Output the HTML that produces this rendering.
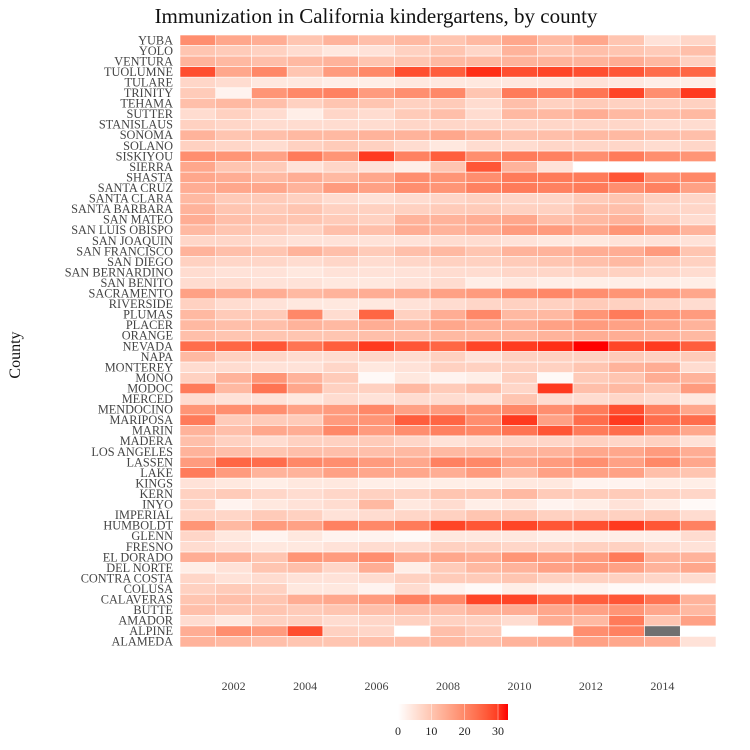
<!DOCTYPE html>
<html><head><meta charset="utf-8">
<style>
html,body{margin:0;padding:0;background:#fff;}
svg{display:block;font-family:"Liberation Serif",serif;}
</style></head>
<body>
<svg id="chart" width="750" height="750" viewBox="0 0 750 750">
  <text x="376" y="23" text-anchor="middle" font-size="21" fill="#111">Immunization in California kindergartens, by county</text>
  <text transform="translate(20,355) rotate(-90)" text-anchor="middle" font-size="16" fill="#111">County</text>
  <g id="cells"></g>
  <g id="ylabels"></g>
  <g id="xlabels"></g>
  <g id="legend"></g>
</svg>
<script>
const years = [2001,2002,2003,2004,2005,2006,2007,2008,2009,2010,2011,2012,2013,2014,2015];
const xTicks = [2002,2004,2006,2008,2010,2012,2014];
const legendTicks = [0,10,20,30];
const counties = ["YUBA","YOLO","VENTURA","TUOLUMNE","TULARE","TRINITY","TEHAMA","SUTTER","STANISLAUS","SONOMA","SOLANO","SISKIYOU","SIERRA","SHASTA","SANTA CRUZ","SANTA CLARA","SANTA BARBARA","SAN MATEO","SAN LUIS OBISPO","SAN JOAQUIN","SAN FRANCISCO","SAN DIEGO","SAN BERNARDINO","SAN BENITO","SACRAMENTO","RIVERSIDE","PLUMAS","PLACER","ORANGE","NEVADA","NAPA","MONTEREY","MONO","MODOC","MERCED","MENDOCINO","MARIPOSA","MARIN","MADERA","LOS ANGELES","LASSEN","LAKE","KINGS","KERN","INYO","IMPERIAL","HUMBOLDT","GLENN","FRESNO","EL DORADO","DEL NORTE","CONTRA COSTA","COLUSA","CALAVERAS","BUTTE","AMADOR","ALPINE","ALAMEDA"];
const values = [
[19,15,14,10,13,11,12,10,12,15,12,15,10,5,7],
[10,9,8,6,4,5,8,10,7,13,10,11,10,9,11],
[13,12,11,12,13,10,10,12,12,13,13,13,14,12,8],
[28,15,20,10,17,20,28,26,31,28,29,28,27,24,25],
[7,6,4,4,3,3,4,4,4,4,4,5,4,3,3],
[9,2,18,20,21,17,19,20,10,22,21,23,29,19,30],
[11,12,11,8,10,10,8,9,6,11,8,9,8,8,8],
[6,8,6,3,7,6,9,11,6,12,12,14,12,11,12],
[8,7,6,6,6,6,7,7,7,7,7,7,7,6,6],
[13,10,11,12,12,13,13,15,13,11,11,12,12,11,11],
[8,7,6,8,9,8,6,4,6,6,7,7,7,6,7],
[19,18,16,22,18,30,21,26,19,22,21,19,22,19,18],
[15,10,9,5,7,5,3,10,27,13,5,null,null,null,null],
[15,14,12,14,12,15,19,18,19,22,22,22,27,19,20],
[14,15,15,13,17,16,19,18,21,22,21,22,19,21,16],
[12,9,9,8,6,5,6,7,8,7,7,9,10,8,7],
[13,10,9,10,8,8,8,9,9,8,8,11,11,7,7],
[14,11,10,10,9,8,13,13,14,15,11,12,13,9,6],
[12,10,9,8,11,11,14,13,14,17,17,15,18,16,13],
[7,7,6,5,5,5,5,6,6,5,4,4,5,5,5],
[13,11,10,13,11,9,11,12,10,13,13,14,14,17,10],
[8,7,7,6,7,6,7,8,8,9,10,11,12,9,8],
[6,5,5,4,5,5,5,6,6,7,7,8,8,7,6],
[6,6,5,5,4,4,5,6,3,4,3,3,3,3,3],
[16,14,14,12,13,14,14,16,17,19,20,19,18,17,15],
[8,6,5,4,4,4,5,6,7,8,8,9,8,7,6],
[12,9,9,20,6,25,8,14,20,12,12,18,22,18,17],
[12,11,11,13,12,14,13,15,14,14,16,17,16,15,13],
[11,10,10,10,10,11,11,12,12,12,13,14,14,13,12],
[24,25,27,23,26,30,27,25,29,30,31,33,29,30,26],
[12,8,7,6,6,7,6,8,5,8,8,8,9,8,9],
[6,6,5,5,7,4,5,8,8,8,8,10,13,14,6],
[8,13,18,13,9,1,4,2,3,8,1,9,10,14,13],
[22,12,23,15,8,8,12,9,11,7,30,11,12,10,17],
[6,5,5,4,6,5,6,6,5,10,6,6,7,6,4],
[18,19,19,16,17,20,16,17,18,20,19,22,28,21,15],
[22,9,9,9,17,18,26,25,19,30,16,24,30,24,24],
[13,11,15,14,20,17,19,21,20,23,27,22,24,19,15],
[11,8,6,8,8,9,7,5,6,7,7,8,7,8,5],
[13,11,10,11,11,11,12,12,12,13,13,15,15,17,14],
[17,25,24,20,19,17,15,21,20,16,17,19,16,20,15],
[22,17,13,13,16,15,15,14,17,12,16,16,16,11,10],
[5,4,3,4,4,3,3,3,3,4,4,2,2,3,3],
[8,9,7,6,7,8,8,10,10,12,9,9,9,8,7],
[7,2,4,5,6,12,4,6,3,4,2,3,5,3,1],
[7,7,9,8,5,6,7,8,10,10,8,8,8,9,6],
[18,12,17,16,21,20,22,29,27,29,27,28,30,27,21],
[7,4,2,4,2,2,1,4,4,4,3,3,3,3,6],
[6,5,4,4,5,6,6,8,8,7,7,8,8,6,5],
[14,13,10,18,17,19,14,15,14,18,16,17,22,13,13],
[3,5,10,11,7,14,3,9,12,13,16,17,16,13,15],
[7,5,6,5,5,6,8,9,9,10,8,8,8,7,6],
[8,9,8,4,4,2,6,2,1,3,2,2,1,1,0.3],
[10,11,10,14,15,17,21,20,29,29,25,26,27,23,13],
[11,10,10,9,10,11,11,11,13,14,15,16,18,15,12],
[6,4,8,8,6,7,8,8,8,6,14,12,22,10,16],
[14,19,17,28,8,7,null,11,9,null,null,19,21,"NA",null],
[13,12,11,10,10,11,11,12,11,13,14,16,15,14,5]
];
const vmin = 0, vmax = 33;
const plotL = 180, plotR = 716, plotT = 35, plotB = 647;
const colW = (plotR - plotL) / years.length;
const rowH = (plotB - plotT) / counties.length;
function xScale(year){ return plotL + (year - years[0]) * colW; }
function yScale(i){ return plotT + i * rowH; }
function lab2rgb(L,a,b){
  let fy=(L+16)/116, fx=fy+a/500, fz=fy-b/200;
  const f=t=>t>0.206893?t*t*t:(t-16/116)/7.787;
  let X=0.95047*f(fx),Y=f(fy),Z=1.08883*f(fz);
  let r=3.2406*X-1.5372*Y-0.4986*Z, g=-0.9689*X+1.8758*Y+0.0415*Z, bb=0.0557*X-0.2040*Y+1.0570*Z;
  const gm=c=>{c=Math.max(0,Math.min(1,c));return Math.round(255*(c<=0.0031308?12.92*c:1.055*Math.pow(c,1/2.4)-0.055));};
  return `rgb(${gm(r)},${gm(g)},${gm(bb)})`;
}
function color(v){
  const t=Math.max(0,Math.min(1,(v-vmin)/(vmax-vmin)));
  return lab2rgb(100+(53.24-100)*t, 80.09*t, 67.20*t);
}
const NS="http://www.w3.org/2000/svg";
const cells=document.getElementById('cells');
counties.forEach((c,i)=>{
  values[i].forEach((v,j)=>{
    if(v===null) return;
    const r=document.createElementNS(NS,'rect');
    r.setAttribute('x',xScale(years[j]));
    r.setAttribute('y',yScale(i));
    r.setAttribute('width',colW);
    r.setAttribute('height',rowH);
    r.setAttribute('fill',v==="NA"?"#707070":color(v));
    r.setAttribute('stroke','#fff');
    r.setAttribute('stroke-width','0.6');
    
    
    cells.appendChild(r);
  });
});
const yl=document.getElementById('ylabels');
counties.forEach((c,i)=>{
  const t=document.createElementNS(NS,'text');
  t.setAttribute('x',173);
  t.setAttribute('y',yScale(i)+rowH/2+4);
  t.setAttribute('text-anchor','end');
  t.setAttribute('font-size','12.3');
  t.setAttribute('fill','#444');
  t.textContent=c;
  
  
  yl.appendChild(t);
});
const xl=document.getElementById('xlabels');
xTicks.forEach(y=>{
  const t=document.createElementNS(NS,'text');
  t.setAttribute('x',xScale(y)+colW/2);
  t.setAttribute('y',690);
  t.setAttribute('text-anchor','middle');
  t.setAttribute('font-size','12');
  t.setAttribute('fill','#444');
  t.textContent=y;
  
  
  xl.appendChild(t);
});
const lg=document.getElementById('legend');
const lgL=398, lgR=508, lgT=704, lgH=16;
const lgScale=v=>lgL+(v-vmin)/(vmax-vmin)*(lgR-lgL);
const defs=document.createElementNS(NS,'defs');
const grad=document.createElementNS(NS,'linearGradient');
grad.setAttribute('id','lgrad');
for(let k=0;k<=10;k++){
  const s=document.createElementNS(NS,'stop');
  s.setAttribute('offset',(k*10)+'%');
  s.setAttribute('stop-color',color(vmin+(vmax-vmin)*k/10));
  grad.appendChild(s);
}
defs.appendChild(grad);
lg.appendChild(defs);
const bar=document.createElementNS(NS,'rect');
bar.setAttribute('x',lgL);bar.setAttribute('y',lgT);bar.setAttribute('width',lgR-lgL);bar.setAttribute('height',lgH);
bar.setAttribute('fill','url(#lgrad)');


lg.appendChild(bar);
legendTicks.forEach(v=>{
  const x=lgScale(v);
  const ln=document.createElementNS(NS,'line');
  ln.setAttribute('x1',x);ln.setAttribute('x2',x);ln.setAttribute('y1',lgT);ln.setAttribute('y2',lgT+lgH);
  ln.setAttribute('stroke','#fff');ln.setAttribute('stroke-width','0.6');ln.setAttribute('opacity','0.7');
  
  
  lg.appendChild(ln);
  const t=document.createElementNS(NS,'text');
  t.setAttribute('x',x);t.setAttribute('y',735);t.setAttribute('text-anchor','middle');
  t.setAttribute('font-size','12');t.setAttribute('fill','#222');
  t.textContent=v;
  
  
  lg.appendChild(t);
});
</script>
</body></html>
